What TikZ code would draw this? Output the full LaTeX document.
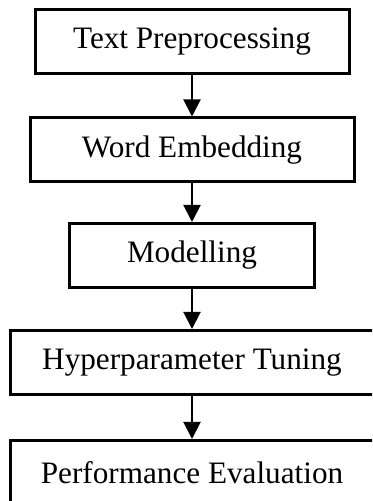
\documentclass[tikz,border=0pt]{standalone}
\usepackage{fontspec}
\setmainfont{Liberation Serif}
\usetikzlibrary{arrows.meta}

\begin{document}
\begin{tikzpicture}[x=0.5pt,y=0.5pt]
    % Styles for the stages and the arrows between them
    \tikzset{stage/.style={draw=black, line width=1.5pt, minimum height=32pt, inner sep=0pt,
                           font=\fontsize{15.6}{18}\selectfont},
             flow/.style={-{Triangle[width=8.5pt,length=8.5pt]}, line width=1pt}}

    % Fix the frame (lower boxes run past the edge)
    \useasboundingbox (0,0) rectangle (372,501);
    \clip (0,0) rectangle (372,501);

    % Pipeline stages, top to bottom
    \node[stage, minimum width=157pt] (prep) at (192,459.5) {Text Preprocessing};
    \node[stage, minimum width=162pt] (embed) at (192,351) {Word Embedding};
    \node[stage, minimum width=122.5pt] (model) at (192,245.5) {Modelling};
    \node[stage, minimum width=182pt] (tune) at (192,138.5) {Hyperparameter Tuning};
    \node[stage, minimum width=182pt] (eval) at (192,28.5) {Performance Evaluation};

    % Arrows
    \draw[flow] (prep) -- (embed);
    \draw[flow] (embed) -- (model);
    \draw[flow] (model) -- (tune);
    \draw[flow] (tune) -- (eval);
\end{tikzpicture}
\end{document}
